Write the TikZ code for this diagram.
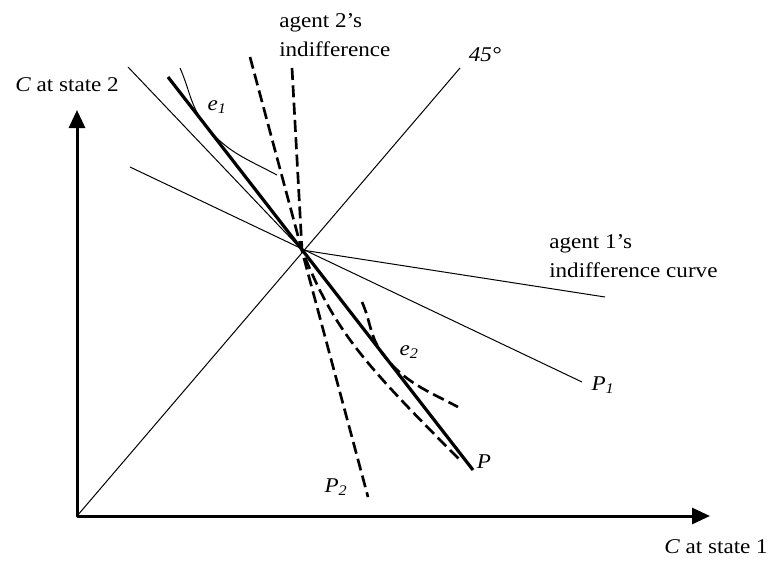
\documentclass[tikz,border=0pt]{standalone}
\usepackage{fontspec}
\setmainfont[FakeStretch=1.1]{Liberation Serif}
\usetikzlibrary{arrows.meta}
\tikzset{
  axisline/.style={line width=2.25pt,{Triangle[length=13.5pt,width=12pt]}-{Triangle[length=13.5pt,width=12pt]}},
  thinline/.style={line width=0.75pt},
  thickline/.style={line width=2.4pt},
  dashline/.style={line width=2pt,dash pattern=on 9pt off 4pt},
  lbl/.style={font=\fontsize{15.75}{21.75}\selectfont,inner sep=0pt},
  mathlbl/.style={lbl,font=\fontsize{15.75}{21.75}\selectfont\itshape},
}

\begin{document}
\begin{tikzpicture}[x=0.75pt,y=0.75pt,line join=round]
  \useasboundingbox (0,0) rectangle (775,562);
  % axes and the equilibrium point
  \coordinate (O)    at (77,46);
  \coordinate (Ytip) at (77,452);
  \coordinate (Xtip) at (710,46);
  \coordinate (E)    at (302,312);
  \coordinate (T45)  at (460,494);
  % price lines
  \coordinate (P1a) at (130,395);  \coordinate (P1b) at (582,180);
  \coordinate (Pa)  at (168,485);  \coordinate (Pb)  at (473,92);
  \coordinate (P2a) at (250,505);  \coordinate (P2b) at (368,65);
  % indifference curves through E
  \coordinate (I1a) at (128,495);  \coordinate (I1b) at (605,265);
  \coordinate (I2a) at (292,494);  \coordinate (I2b) at (462,100);
  % indifference curves at the endowments
  \coordinate (e1a) at (180,494);  \coordinate (e1) at (205.2,437);  \coordinate (e1b) at (277,387);
  \coordinate (e2a) at (362,260);  \coordinate (e2) at (383.5,207);  \coordinate (e2b) at (458,155);

  \draw[axisline] (Ytip) -- (O) -- (Xtip);
  \draw[thinline] (O) -- (T45);
  \draw[thinline] (P1a) -- (P1b);
  \draw[thinline] (I1a) -- (E) -- (I1b);
  \draw[thinline] (e1a) to[out=-66,in=128] (e1) to[out=-52,in=152] (e1b);
  \draw[thickline] (Pa) -- (Pb);
  \draw[dashline] (P2a) -- (P2b);
  \draw[dashline] (I2a) -- (E) .. controls (334,232) and (362,200) .. (I2b);
  \draw[dashline] (e2a) to[out=-66,in=128] (e2) to[out=-52,in=152] (e2b);

  \node[lbl] (ylab) at (67,477) {\textit{C} at state 2};
  \node[lbl] (xlab) at (716,15) {\textit{C} at state 1};
  \node[mathlbl] (lab45) at (485,507) {45°};
  \node[lbl,anchor=west,align=left] (lab2) at (279,527) {agent 2’s\\indifference};
  \node[lbl,anchor=west,align=left] (lab1) at (549,306) {agent 1’s\\indifference curve};
  \node[mathlbl] (le1) at (217,455) {e\textsubscript{1}};
  \node[mathlbl] (le2) at (409,210) {e\textsubscript{2}};
  \node[mathlbl] (lP1) at (603,177) {P\textsubscript{1}};
  \node[mathlbl] (lP)  at (484,100) {P};
  \node[mathlbl] (lP2) at (336,75)  {P\textsubscript{2}};
\end{tikzpicture}
\end{document}
